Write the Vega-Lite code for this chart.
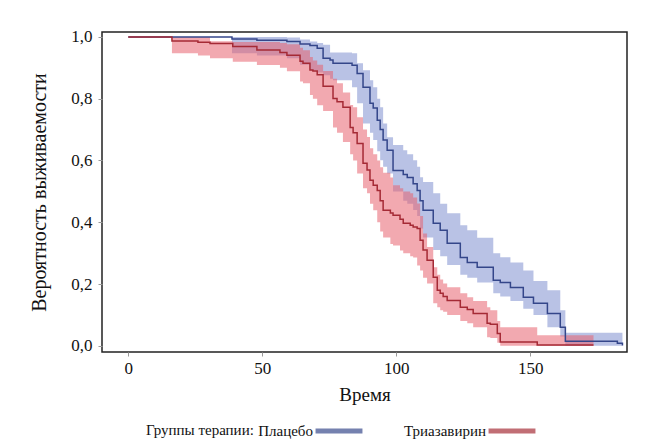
{
  "$schema": "https://vega.github.io/schema/vega-lite/v6.json",
  "width": 525,
  "height": 320,
  "autosize": {"type": "none"},
  "padding": {"left": 102, "top": 32, "right": 21, "bottom": 94},
  "background": "white",
  "config": {
    "font": "Liberation Serif",
    "view": {"stroke": "#222222", "strokeWidth": 1.5},
    "axis": {
      "grid": false,
      "domain": false,
      "tickColor": "#999999",
      "tickSize": 4,
      "labelColor": "#111111",
      "titleColor": "#111111",
      "labelFont": "Liberation Serif",
      "titleFont": "Liberation Serif",
      "titleFontWeight": "normal"
    }
  },
  "datasets": {
    "km": [
      {"g": "Плацебо", "t": 0, "s": 1, "lo": 1, "hi": 1},
      {"g": "Плацебо", "t": 38.7, "s": 0.993, "lo": 0.947, "hi": 1},
      {"g": "Плацебо", "t": 48, "s": 0.989, "lo": 0.94, "hi": 1},
      {"g": "Плацебо", "t": 59.2, "s": 0.985, "lo": 0.931, "hi": 0.998},
      {"g": "Плацебо", "t": 64.1, "s": 0.977, "lo": 0.91, "hi": 0.992},
      {"g": "Плацебо", "t": 67.8, "s": 0.972, "lo": 0.892, "hi": 0.985},
      {"g": "Плацебо", "t": 70.5, "s": 0.963, "lo": 0.885, "hi": 0.98},
      {"g": "Плацебо", "t": 72.7, "s": 0.931, "lo": 0.876, "hi": 0.975},
      {"g": "Плацебо", "t": 75.3, "s": 0.925, "lo": 0.865, "hi": 0.95},
      {"g": "Плацебо", "t": 76.4, "s": 0.915, "lo": 0.86, "hi": 0.95},
      {"g": "Плацебо", "t": 83.5, "s": 0.908, "lo": 0.837, "hi": 0.947},
      {"g": "Плацебо", "t": 85.4, "s": 0.882, "lo": 0.785, "hi": 0.915},
      {"g": "Плацебо", "t": 87.6, "s": 0.837, "lo": 0.72, "hi": 0.892},
      {"g": "Плацебо", "t": 90.2, "s": 0.785, "lo": 0.69, "hi": 0.86},
      {"g": "Плацебо", "t": 91.4, "s": 0.77, "lo": 0.666, "hi": 0.837},
      {"g": "Плацебо", "t": 92.9, "s": 0.73, "lo": 0.63, "hi": 0.8},
      {"g": "Плацебо", "t": 94, "s": 0.7, "lo": 0.601, "hi": 0.772},
      {"g": "Плацебо", "t": 95.1, "s": 0.666, "lo": 0.58, "hi": 0.72},
      {"g": "Плацебо", "t": 96.6, "s": 0.633, "lo": 0.558, "hi": 0.675},
      {"g": "Плацебо", "t": 98.8, "s": 0.568, "lo": 0.5, "hi": 0.65},
      {"g": "Плацебо", "t": 102.6, "s": 0.555, "lo": 0.47, "hi": 0.633},
      {"g": "Плацебо", "t": 104.1, "s": 0.545, "lo": 0.46, "hi": 0.62},
      {"g": "Плацебо", "t": 106.3, "s": 0.525, "lo": 0.44, "hi": 0.601},
      {"g": "Плацебо", "t": 107.8, "s": 0.503, "lo": 0.42, "hi": 0.58},
      {"g": "Плацебо", "t": 108.9, "s": 0.47, "lo": 0.38, "hi": 0.546},
      {"g": "Плацебо", "t": 110, "s": 0.439, "lo": 0.351, "hi": 0.53},
      {"g": "Плацебо", "t": 113.8, "s": 0.397, "lo": 0.31, "hi": 0.494},
      {"g": "Плацебо", "t": 116.4, "s": 0.374, "lo": 0.29, "hi": 0.46},
      {"g": "Плацебо", "t": 119, "s": 0.332, "lo": 0.262, "hi": 0.429},
      {"g": "Плацебо", "t": 123.9, "s": 0.286, "lo": 0.23, "hi": 0.39},
      {"g": "Плацебо", "t": 126.5, "s": 0.27, "lo": 0.22, "hi": 0.374},
      {"g": "Плацебо", "t": 130.2, "s": 0.254, "lo": 0.205, "hi": 0.35},
      {"g": "Плацебо", "t": 136.2, "s": 0.212, "lo": 0.17, "hi": 0.3},
      {"g": "Плацебо", "t": 138.8, "s": 0.205, "lo": 0.16, "hi": 0.287},
      {"g": "Плацебо", "t": 142.6, "s": 0.189, "lo": 0.145, "hi": 0.27},
      {"g": "Плацебо", "t": 147.4, "s": 0.157, "lo": 0.12, "hi": 0.244},
      {"g": "Плацебо", "t": 151.2, "s": 0.138, "lo": 0.1, "hi": 0.21},
      {"g": "Плацебо", "t": 156.4, "s": 0.105, "lo": 0.06, "hi": 0.18},
      {"g": "Плацебо", "t": 161.2, "s": 0.06, "lo": 0.03, "hi": 0.115},
      {"g": "Плацебо", "t": 163.1, "s": 0.015, "lo": 0, "hi": 0.042},
      {"g": "Плацебо", "t": 182.5, "s": 0.008, "lo": 0, "hi": 0.042},
      {"g": "Плацебо", "t": 184.4, "s": 0.001, "lo": 0, "hi": 0.042},
      {"g": "Триазавирин", "t": 0, "s": 1, "lo": 1, "hi": 1},
      {"g": "Триазавирин", "t": 16.3, "s": 0.987, "lo": 0.947, "hi": 1},
      {"g": "Триазавирин", "t": 26, "s": 0.983, "lo": 0.94, "hi": 1},
      {"g": "Триазавирин", "t": 30.5, "s": 0.979, "lo": 0.931, "hi": 0.986},
      {"g": "Триазавирин", "t": 39, "s": 0.969, "lo": 0.92, "hi": 0.984},
      {"g": "Триазавирин", "t": 48, "s": 0.958, "lo": 0.909, "hi": 0.984},
      {"g": "Триазавирин", "t": 56.6, "s": 0.95, "lo": 0.9, "hi": 0.98},
      {"g": "Триазавирин", "t": 59.2, "s": 0.941, "lo": 0.889, "hi": 0.976},
      {"g": "Триазавирин", "t": 64.1, "s": 0.921, "lo": 0.856, "hi": 0.965},
      {"g": "Триазавирин", "t": 65.2, "s": 0.915, "lo": 0.85, "hi": 0.957},
      {"g": "Триазавирин", "t": 67.8, "s": 0.893, "lo": 0.812, "hi": 0.935},
      {"g": "Триазавирин", "t": 68.9, "s": 0.89, "lo": 0.8, "hi": 0.924},
      {"g": "Триазавирин", "t": 70.5, "s": 0.878, "lo": 0.779, "hi": 0.91},
      {"g": "Триазавирин", "t": 72.7, "s": 0.84, "lo": 0.76, "hi": 0.89},
      {"g": "Триазавирин", "t": 76.4, "s": 0.801, "lo": 0.707, "hi": 0.865},
      {"g": "Триазавирин", "t": 77.9, "s": 0.79, "lo": 0.69, "hi": 0.85},
      {"g": "Триазавирин", "t": 80.1, "s": 0.772, "lo": 0.66, "hi": 0.82},
      {"g": "Триазавирин", "t": 82.8, "s": 0.707, "lo": 0.62, "hi": 0.78},
      {"g": "Триазавирин", "t": 83.9, "s": 0.69, "lo": 0.6, "hi": 0.772},
      {"g": "Триазавирин", "t": 85.4, "s": 0.655, "lo": 0.558, "hi": 0.74},
      {"g": "Триазавирин", "t": 87.6, "s": 0.591, "lo": 0.51, "hi": 0.7},
      {"g": "Триазавирин", "t": 89.1, "s": 0.569, "lo": 0.494, "hi": 0.676},
      {"g": "Триазавирин", "t": 90.2, "s": 0.536, "lo": 0.46, "hi": 0.64},
      {"g": "Триазавирин", "t": 91.4, "s": 0.52, "lo": 0.439, "hi": 0.62},
      {"g": "Триазавирин", "t": 92.9, "s": 0.503, "lo": 0.4, "hi": 0.6},
      {"g": "Триазавирин", "t": 94, "s": 0.47, "lo": 0.37, "hi": 0.578},
      {"g": "Триазавирин", "t": 95.1, "s": 0.439, "lo": 0.351, "hi": 0.56},
      {"g": "Триазавирин", "t": 97.8, "s": 0.43, "lo": 0.33, "hi": 0.545},
      {"g": "Триазавирин", "t": 98.8, "s": 0.423, "lo": 0.325, "hi": 0.52},
      {"g": "Триазавирин", "t": 101.4, "s": 0.41, "lo": 0.309, "hi": 0.51},
      {"g": "Триазавирин", "t": 102.6, "s": 0.397, "lo": 0.3, "hi": 0.5},
      {"g": "Триазавирин", "t": 105.2, "s": 0.39, "lo": 0.29, "hi": 0.494},
      {"g": "Триазавирин", "t": 106.3, "s": 0.385, "lo": 0.286, "hi": 0.48},
      {"g": "Триазавирин", "t": 107.8, "s": 0.38, "lo": 0.26, "hi": 0.461},
      {"g": "Триазавирин", "t": 108.9, "s": 0.342, "lo": 0.244, "hi": 0.42},
      {"g": "Триазавирин", "t": 110, "s": 0.31, "lo": 0.22, "hi": 0.364},
      {"g": "Триазавирин", "t": 111.5, "s": 0.277, "lo": 0.202, "hi": 0.32},
      {"g": "Триазавирин", "t": 113.8, "s": 0.222, "lo": 0.138, "hi": 0.254},
      {"g": "Триазавирин", "t": 115.3, "s": 0.18, "lo": 0.125, "hi": 0.23},
      {"g": "Триазавирин", "t": 116.4, "s": 0.17, "lo": 0.115, "hi": 0.215},
      {"g": "Триазавирин", "t": 117.5, "s": 0.16, "lo": 0.11, "hi": 0.202},
      {"g": "Триазавирин", "t": 119, "s": 0.147, "lo": 0.1, "hi": 0.19},
      {"g": "Триазавирин", "t": 123.9, "s": 0.125, "lo": 0.08, "hi": 0.17},
      {"g": "Триазавирин", "t": 126.5, "s": 0.118, "lo": 0.073, "hi": 0.157},
      {"g": "Триазавирин", "t": 128.7, "s": 0.105, "lo": 0.06, "hi": 0.145},
      {"g": "Триазавирин", "t": 133.9, "s": 0.073, "lo": 0.028, "hi": 0.125},
      {"g": "Триазавирин", "t": 135.1, "s": 0.07, "lo": 0.025, "hi": 0.115},
      {"g": "Триазавирин", "t": 137.7, "s": 0.04, "lo": 0.01, "hi": 0.08},
      {"g": "Триазавирин", "t": 138.8, "s": 0.012, "lo": 0, "hi": 0.06},
      {"g": "Триазавирин", "t": 152.6, "s": 0.003, "lo": 0, "hi": 0.034},
      {"g": "Триазавирин", "t": 173.6, "s": 0.003, "lo": 0, "hi": 0.034}
    ]
  },
  "data": {"name": "km"},
  "encoding": {
    "x": {
      "field": "t",
      "type": "quantitative",
      "scale": {"domain": [-9.8, 186.1], "nice": false, "zero": false},
      "axis": {
        "title": "Время",
        "values": [0, 50, 100, 150],
        "labelFontSize": 17,
        "titleFontSize": 19,
        "labelPadding": 4,
        "titlePadding": 9
      }
    }
  },
  "layer": [
    {
      "mark": {"type": "area", "interpolate": "step-after", "opacity": 0.55},
      "encoding": {
        "y": {
          "field": "lo",
          "type": "quantitative",
          "scale": {"domain": [-0.02, 1.016], "nice": false, "zero": false},
          "axis": {
            "title": "Вероятность выживаемости",
            "values": [0, 0.2, 0.4, 0.6, 0.8, 1],
            "labelExpr": "replace(format(datum.value, '.1f'), '.', ',')",
            "labelFontSize": 17,
            "titleFontSize": 20,
            "labelPadding": 6,
            "titlePadding": 21
          }
        },
        "y2": {"field": "hi"},
        "fill": {
          "field": "g",
          "type": "nominal",
          "scale": {"range": ["#7f8fcf", "#e8636f"]},
          "legend": null
        }
      }
    },
    {
      "mark": {"type": "line", "interpolate": "step-after", "strokeWidth": 1.5},
      "encoding": {
        "y": {"field": "s", "type": "quantitative"},
        "color": {
          "field": "g",
          "type": "nominal",
          "scale": {"domain": ["Плацебо", "Триазавирин"], "range": ["#34468a", "#a52a35"]},
          "legend": {
            "title": "Группы терапии:",
            "orient": "none",
            "legendX": 44,
            "legendY": 373,
            "direction": "horizontal",
            "titleOrient": "left",
            "titleAnchor": "middle",
            "titleBaseline": "top",
            "titleFont": "Liberation Serif",
            "titleFontSize": 15,
            "titleFontWeight": "normal",
            "titleColor": "#111111",
            "labelFont": "Liberation Serif",
            "labelFontSize": 15,
            "labelColor": "#111111",
            "symbolType": "stroke",
            "symbolSize": 2200,
            "symbolStrokeWidth": 5,
            "symbolOpacity": 0.68,
            "labelAlign": "right",
            "labelOffset": -52,
            "titlePadding": 59,
            "columnPadding": 30
          }
        }
      }
    }
  ]
}
